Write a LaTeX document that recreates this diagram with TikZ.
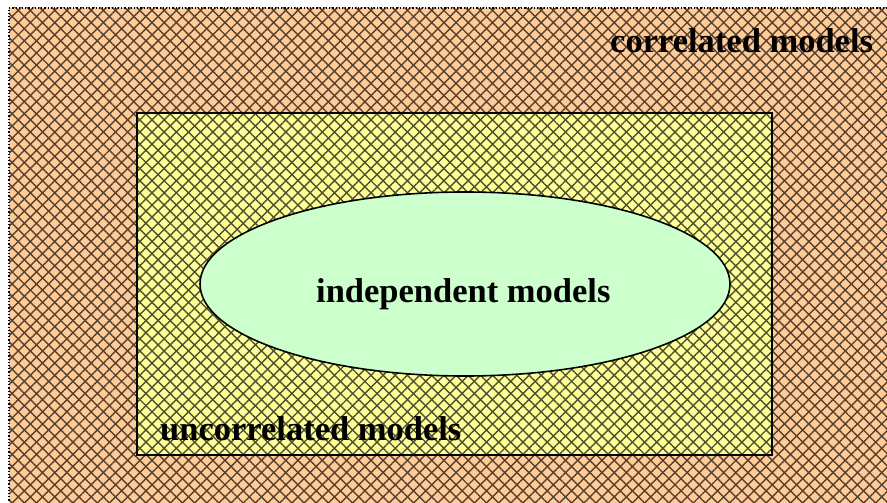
\documentclass[tikz,border=0pt]{standalone}
\usepackage{fontspec}
\setmainfont{Liberation Serif}
\usetikzlibrary{patterns.meta}
\definecolor{peach}{RGB}{255,204,153}
\definecolor{lyellow}{RGB}{255,255,153}
\definecolor{lgreen}{RGB}{204,255,204}
\definecolor{peachline}{RGB}{85,65,45}
\definecolor{yellowline}{RGB}{80,80,45}
\tikzset{
  hatchA/.style={pattern={Lines[angle=45,distance=8.6pt,line width=1.4pt]}},
  hatchB/.style={pattern={Lines[angle=-45,distance=8.6pt,line width=1.4pt]}},
  lbl/.style={font=\fontsize{34.5}{40}\selectfont\bfseries,inner sep=0pt,anchor=base west}
}
\begin{document}
\begin{tikzpicture}[x=1pt,y=-1pt]
\useasboundingbox (0,0) rectangle (887,503);
\fill[white] (0,0) rectangle (887,503);
\begin{scope}
\clip (0,0) rectangle (887,503);
% outer region
\fill[peach] (9,8) rectangle (900,520);
\fill[hatchA,pattern color=peachline] (9,8) rectangle (900,520);
\fill[hatchB,pattern color=peachline] (9,8) rectangle (900,520);
\draw[dotted,line width=1.2pt] (900,8) -- (9,8) -- (9,520);
% inner rectangle
\fill[lyellow] (137,113) rectangle (772,455);
\fill[hatchA,pattern color=yellowline] (137,113) rectangle (772,455);
\fill[hatchB,pattern color=yellowline] (137,113) rectangle (772,455);
\coordinate (innerNW) at (137,113);
\coordinate (innerSE) at (772,455);
\draw[line width=2.4pt] (innerNW) rectangle (innerSE);
% ellipse
\fill[lgreen,draw=black,line width=1.6pt] (465,284) ellipse [x radius=265,y radius=92];
\end{scope}
\node[lbl] (corr) at (610,53) {correlated models};
\node[lbl] (indep) at (316,302.5) {independent models};
\node[lbl] (uncorr) at (160,440) {uncorrelated models};
\end{tikzpicture}
\end{document}
